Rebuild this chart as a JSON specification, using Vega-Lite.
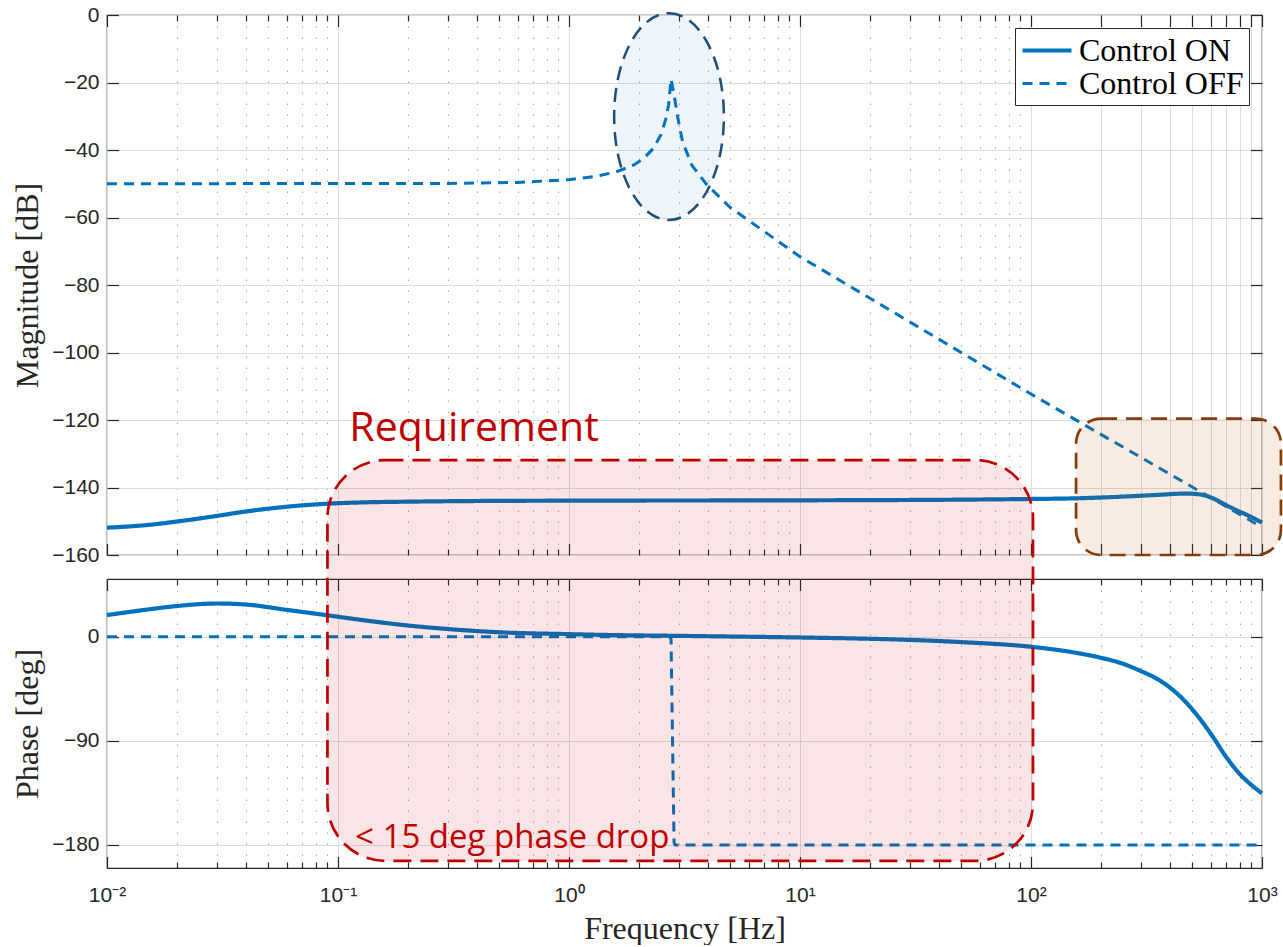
{
  "$schema": "https://vega.github.io/schema/vega-lite/v6.json",
  "background": "white",
  "padding": {"left": 11, "top": 3, "right": 0, "bottom": 0},
  "bounds": "flush",
  "spacing": 24,
  "datasets": {
    "magOn": [
      {"f": 0.01, "db": -151.9, "series": "Control ON"},
      {"f": 0.015, "db": -151.1, "series": "Control ON"},
      {"f": 0.02, "db": -150.1, "series": "Control ON"},
      {"f": 0.03, "db": -148.4, "series": "Control ON"},
      {"f": 0.04, "db": -147.1, "series": "Control ON"},
      {"f": 0.06, "db": -145.7, "series": "Control ON"},
      {"f": 0.09, "db": -144.8, "series": "Control ON"},
      {"f": 0.13, "db": -144.4, "series": "Control ON"},
      {"f": 0.2, "db": -144.2, "series": "Control ON"},
      {"f": 0.4, "db": -144.0, "series": "Control ON"},
      {"f": 1, "db": -143.9, "series": "Control ON"},
      {"f": 10, "db": -143.8, "series": "Control ON"},
      {"f": 50, "db": -143.6, "series": "Control ON"},
      {"f": 100, "db": -143.4, "series": "Control ON"},
      {"f": 158, "db": -143.2, "series": "Control ON"},
      {"f": 250, "db": -142.7, "series": "Control ON"},
      {"f": 350, "db": -142.2, "series": "Control ON"},
      {"f": 470, "db": -141.8, "series": "Control ON"},
      {"f": 530, "db": -142.0, "series": "Control ON"},
      {"f": 576, "db": -142.5, "series": "Control ON"},
      {"f": 640, "db": -143.8, "series": "Control ON"},
      {"f": 703, "db": -145.3, "series": "Control ON"},
      {"f": 780, "db": -146.8, "series": "Control ON"},
      {"f": 859, "db": -148.1, "series": "Control ON"},
      {"f": 1000, "db": -150.4, "series": "Control ON"}
    ],
    "magOff": [
      {"f": 0.01, "db": -50.0, "series": "Control OFF"},
      {"f": 0.3, "db": -49.9, "series": "Control OFF"},
      {"f": 0.6, "db": -49.6, "series": "Control OFF"},
      {"f": 1.0, "db": -48.8, "series": "Control OFF"},
      {"f": 1.3, "db": -47.8, "series": "Control OFF"},
      {"f": 1.6, "db": -46.5, "series": "Control OFF"},
      {"f": 1.9, "db": -44.5, "series": "Control OFF"},
      {"f": 2.1, "db": -42.6, "series": "Control OFF"},
      {"f": 2.32, "db": -39.5, "series": "Control OFF"},
      {"f": 2.5, "db": -35.5, "series": "Control OFF"},
      {"f": 2.62, "db": -31.0, "series": "Control OFF"},
      {"f": 2.7, "db": -26.5, "series": "Control OFF"},
      {"f": 2.765, "db": -19.0, "series": "Control OFF"},
      {"f": 2.85, "db": -23.5, "series": "Control OFF"},
      {"f": 2.95, "db": -30.0, "series": "Control OFF"},
      {"f": 3.1, "db": -37.5, "series": "Control OFF"},
      {"f": 3.4, "db": -44.5, "series": "Control OFF"},
      {"f": 3.94, "db": -50.2, "series": "Control OFF"},
      {"f": 5, "db": -57.1, "series": "Control OFF"},
      {"f": 10, "db": -71.6, "series": "Control OFF"},
      {"f": 100, "db": -112.3, "series": "Control OFF"},
      {"f": 1000, "db": -151.8, "series": "Control OFF"}
    ],
    "phOn": [
      {"f": 0.01, "deg": 18.8, "series": "Control ON"},
      {"f": 0.015, "deg": 23.6, "series": "Control ON"},
      {"f": 0.02, "deg": 26.6, "series": "Control ON"},
      {"f": 0.03, "deg": 28.8, "series": "Control ON"},
      {"f": 0.04, "deg": 27.9, "series": "Control ON"},
      {"f": 0.06, "deg": 23.3, "series": "Control ON"},
      {"f": 0.09, "deg": 18.6, "series": "Control ON"},
      {"f": 0.133, "deg": 14.0, "series": "Control ON"},
      {"f": 0.2, "deg": 9.8, "series": "Control ON"},
      {"f": 0.3, "deg": 6.7, "series": "Control ON"},
      {"f": 0.5, "deg": 3.9, "series": "Control ON"},
      {"f": 1.0, "deg": 2.3, "series": "Control ON"},
      {"f": 1.36, "deg": 1.7, "series": "Control ON"},
      {"f": 3, "deg": 0.8, "series": "Control ON"},
      {"f": 10, "deg": -0.6, "series": "Control ON"},
      {"f": 16, "deg": -1.3, "series": "Control ON"},
      {"f": 27, "deg": -2.4, "series": "Control ON"},
      {"f": 50, "deg": -4.6, "series": "Control ON"},
      {"f": 102, "deg": -8.8, "series": "Control ON"},
      {"f": 150, "deg": -13.2, "series": "Control ON"},
      {"f": 199, "deg": -18.0, "series": "Control ON"},
      {"f": 250, "deg": -23.3, "series": "Control ON"},
      {"f": 297, "deg": -29.4, "series": "Control ON"},
      {"f": 350, "deg": -36.2, "series": "Control ON"},
      {"f": 400, "deg": -44.0, "series": "Control ON"},
      {"f": 450, "deg": -53.0, "series": "Control ON"},
      {"f": 505, "deg": -64.0, "series": "Control ON"},
      {"f": 560, "deg": -75.5, "series": "Control ON"},
      {"f": 616, "deg": -87.2, "series": "Control ON"},
      {"f": 703, "deg": -104.5, "series": "Control ON"},
      {"f": 803, "deg": -118.9, "series": "Control ON"},
      {"f": 900, "deg": -128.2, "series": "Control ON"},
      {"f": 1000, "deg": -135.4, "series": "Control ON"}
    ],
    "phOff": [
      {"f": 0.01, "deg": 0, "series": "Control OFF"},
      {"f": 2.74, "deg": 0, "series": "Control OFF"},
      {"f": 2.765, "deg": -2, "series": "Control OFF"},
      {"f": 2.85, "deg": -178, "series": "Control OFF"},
      {"f": 2.88, "deg": -180, "series": "Control OFF"},
      {"f": 1000, "deg": -180, "series": "Control OFF"}
    ],
    "ellipse": [{"f": 2.71, "db": -30.1}],
    "brown": [{"f": 156.7, "f2": 1208, "db": -119.6, "db2": -160}],
    "req": [{"f": 0.09, "f2": 102, "deg": 152.9, "deg2": -193.9}],
    "reqText": [{"f": 0.112, "db": -126.2, "label": "Requirement"}],
    "dropText": [{"f": 0.1186, "deg": -183.1, "label": "< 15 deg phase drop"}]
  },
  "resolve": {"scale": {"strokeDash": "independent", "strokeWidth": "independent"}},
  "vconcat": [
    {
      "width": 1155,
      "height": 540,
      "resolve": {"axis": {"x": "independent", "y": "independent"}},
      "layer": [
        {
          "data": {"name": "magOn"},
          "mark": {"type": "line", "color": "#0072BD", "strokeCap": "butt", "strokeJoin": "round", "interpolate": "monotone"},
          "encoding": {
            "x": {"field": "f", "type": "quantitative",
              "scale": {"type": "log", "domain": [0.01, 1000], "nice": false},
              "axis": {"orient": "bottom", "title": null, "labels": false, "grid": true,
                "values": [0.01,0.02,0.03,0.04,0.05,0.06,0.07,0.08,0.09,0.1,0.2,0.3,0.4,0.5,0.6,0.7,0.8,0.9,1,2,3,4,5,6,7,8,9,10,20,30,40,50,60,70,80,90,100,200,300,400,500,600,700,800,900,1000],
                "gridDash": {"condition": {"test": "datum.value > 100.5 || indexof([0.01,0.1,1,10,100,1000], datum.value) >= 0", "value": []}, "value": [1.5, 9.5]},
                "gridColor": {"condition": {"test": "datum.value > 100.5 || indexof([0.01,0.1,1,10,100,1000], datum.value) >= 0", "value": "#DCDCDC"}, "value": "#A8A8A8"},
                "tickSize": {"condition": {"test": "datum.value > 100.5 || indexof([0.01,0.1,1,10,100,1000], datum.value) >= 0", "value": -11.5}, "value": -6}
              }},
            "y": {"field": "db", "type": "quantitative",
              "scale": {"domain": [-160, 0], "nice": false, "zero": false},
              "axis": {"orient": "left", "title": "Magnitude [dB]", "values": [-160,-140,-120,-100,-80,-60,-40,-20,0],
                "grid": true, "tickSize": -11.5, "labelPadding": 19.5, "titlePadding": 7}},
            "strokeDash": {"field": "series", "type": "nominal",
              "scale": {"domain": ["Control ON", "Control OFF"], "range": [[1, 0], [10, 7]]},
              "legend": {"title": null, "orient": "top-right", "offset": 13, "fillColor": "white", "strokeColor": "#262626",
                "padding": 5, "labelFont": "Liberation Serif", "labelFontSize": 32, "labelColor": "black",
                "symbolType": "M -1.633,0 L 1.633,0", "symbolSize": 900, "symbolStrokeColor": "#0072BD", "symbolStrokeWidth": 3.5,
                "symbolOffset": 9.5, "labelOffset": 14.5, "rowPadding": 0, "labelLimit": 0, "zindex": 2}},
            "strokeWidth": {"field": "series", "type": "nominal",
              "scale": {"domain": ["Control ON", "Control OFF"], "range": [4.2, 3]}, "legend": null}
          }
        },
        {
          "data": {"name": "magOff"},
          "mark": {"type": "line", "color": "#0072BD", "strokeCap": "butt", "strokeJoin": "round"},
          "encoding": {
            "x": {"field": "f", "type": "quantitative", "axis": null},
            "y": {"field": "db", "type": "quantitative", "axis": null},
            "strokeDash": {"field": "series", "type": "nominal"},
            "strokeWidth": {"field": "series", "type": "nominal"}
          }
        },
        {
          "data": {"name": "magOn"},
          "mark": {"type": "line", "opacity": 0},
          "encoding": {
            "x": {"field": "f", "type": "quantitative",
              "axis": {"orient": "top", "title": null, "labels": false, "grid": false,
                "values": [0.01,0.02,0.03,0.04,0.05,0.06,0.07,0.08,0.09,0.1,0.2,0.3,0.4,0.5,0.6,0.7,0.8,0.9,1,2,3,4,5,6,7,8,9,10,20,30,40,50,60,70,80,90,100,200,300,400,500,600,700,800,900,1000],
                "tickSize": {"condition": {"test": "datum.value > 100.5 || indexof([0.01,0.1,1,10,100,1000], datum.value) >= 0", "value": -11.5}, "value": -6}
              }},
            "y": {"field": "db", "type": "quantitative",
              "axis": {"orient": "right", "title": null, "labels": false, "grid": false,
                "values": [-160,-140,-120,-100,-80,-60,-40,-20,0], "tickSize": -11.5}}
          }
        },
        {
          "data": {"name": "ellipse"},
          "mark": {"type": "point", "filled": true,
            "shape": "M 0,-1 C 0.2933,-1 0.531,-0.5523 0.531,0 C 0.531,0.5523 0.2933,1 0,1 C -0.2933,1 -0.531,0.5523 -0.531,0 C -0.531,-0.5523 -0.2933,-1 0,-1 Z",
            "size": 42725, "fill": "#0072BD", "fillOpacity": 0.07, "stroke": "#1F4E79", "strokeWidth": 2.5, "strokeDash": [14, 8], "opacity": 1},
          "encoding": {
            "x": {"field": "f", "type": "quantitative", "axis": null},
            "y": {"field": "db", "type": "quantitative", "axis": null}
          }
        },
        {
          "data": {"name": "brown"},
          "mark": {"type": "rect", "cornerRadius": 25, "fill": "#C55A11", "fillOpacity": 0.12, "stroke": "#843C0C", "strokeWidth": 2.7, "strokeDash": [16, 9]},
          "encoding": {
            "x": {"field": "f", "type": "quantitative", "axis": null},
            "x2": {"field": "f2"},
            "y": {"field": "db", "type": "quantitative", "axis": null},
            "y2": {"field": "db2"}
          }
        },
        {
          "data": {"name": "reqText"},
          "mark": {"type": "text", "font": "Open Sans", "fontSize": 41, "color": "#C00000", "align": "left", "baseline": "alphabetic"},
          "encoding": {
            "x": {"field": "f", "type": "quantitative", "axis": null},
            "y": {"field": "db", "type": "quantitative", "axis": null},
            "text": {"field": "label"}
          }
        }
      ]
    },
    {
      "width": 1155,
      "height": 289,
      "resolve": {"axis": {"x": "independent", "y": "independent"}},
      "layer": [
        {
          "data": {"name": "phOn"},
          "mark": {"type": "line", "color": "#0072BD", "strokeCap": "butt", "strokeJoin": "round", "interpolate": "monotone"},
          "encoding": {
            "x": {"field": "f", "type": "quantitative",
              "scale": {"type": "log", "domain": [0.01, 1000], "nice": false},
              "axis": {"orient": "bottom", "title": "Frequency [Hz]", "grid": true, "labelOverlap": false, "labelFlush": false,
                "values": [0.01,0.02,0.03,0.04,0.05,0.06,0.07,0.08,0.09,0.1,0.2,0.3,0.4,0.5,0.6,0.7,0.8,0.9,1,2,3,4,5,6,7,8,9,10,20,30,40,50,60,70,80,90,100,200,300,400,500,600,700,800,900,1000],
                "labelExpr": "['10⁻²','10⁻¹','10⁰','10¹','10²','10³'][indexof([0.01,0.1,1,10,100,1000], datum.value)] || ''",
                "gridDash": {"condition": {"test": "indexof([0.01,0.1,1,10,100,1000], datum.value) >= 0", "value": []}, "value": [1.5, 9.5]},
                "gridColor": {"condition": {"test": "indexof([0.01,0.1,1,10,100,1000], datum.value) >= 0", "value": "#DCDCDC"}, "value": "#A8A8A8"},
                "tickSize": {"condition": {"test": "indexof([0.01,0.1,1,10,100,1000], datum.value) >= 0", "value": -11.5}, "value": -6},
                "labelPadding": 28, "titlePadding": 2
              }},
            "y": {"field": "deg", "type": "quantitative",
              "scale": {"domain": [-200, 50], "nice": false, "zero": false},
              "axis": {"orient": "left", "title": "Phase [deg]", "values": [-180, -90, 0],
                "grid": true, "tickSize": -11.5, "labelPadding": 19.5, "titlePadding": 7}},
            "strokeDash": {"field": "series", "type": "nominal",
              "scale": {"domain": ["Control ON", "Control OFF"], "range": [[1, 0], [10, 7]]}, "legend": null},
            "strokeWidth": {"field": "series", "type": "nominal",
              "scale": {"domain": ["Control ON", "Control OFF"], "range": [4.2, 3]}, "legend": null}
          }
        },
        {
          "data": {"name": "phOff"},
          "mark": {"type": "line", "color": "#0072BD", "strokeCap": "butt", "strokeJoin": "round"},
          "encoding": {
            "x": {"field": "f", "type": "quantitative", "axis": null},
            "y": {"field": "deg", "type": "quantitative", "axis": null},
            "strokeDash": {"field": "series", "type": "nominal", "legend": null},
            "strokeWidth": {"field": "series", "type": "nominal", "legend": null}
          }
        },
        {
          "data": {"name": "phOn"},
          "mark": {"type": "line", "opacity": 0},
          "encoding": {
            "x": {"field": "f", "type": "quantitative",
              "axis": {"orient": "top", "title": null, "labels": false, "grid": false,
                "values": [0.01,0.02,0.03,0.04,0.05,0.06,0.07,0.08,0.09,0.1,0.2,0.3,0.4,0.5,0.6,0.7,0.8,0.9,1,2,3,4,5,6,7,8,9,10,20,30,40,50,60,70,80,90,100,200,300,400,500,600,700,800,900,1000],
                "tickSize": {"condition": {"test": "indexof([0.01,0.1,1,10,100,1000], datum.value) >= 0", "value": -11.5}, "value": -6}
              }},
            "y": {"field": "deg", "type": "quantitative",
              "axis": {"orient": "right", "title": null, "labels": false, "grid": false,
                "values": [-180, -90, 0], "tickSize": -11.5}}
          }
        },
        {
          "data": {"name": "req"},
          "mark": {"type": "rect", "cornerRadius": 58, "fill": "#C00000", "fillOpacity": 0.1, "stroke": "#C00000", "strokeWidth": 2.7, "strokeDash": [18, 9]},
          "encoding": {
            "x": {"field": "f", "type": "quantitative", "axis": null},
            "x2": {"field": "f2"},
            "y": {"field": "deg", "type": "quantitative", "axis": null},
            "y2": {"field": "deg2"}
          }
        },
        {
          "data": {"name": "dropText"},
          "mark": {"type": "text", "font": "Open Sans", "fontSize": 33, "color": "#C00000", "align": "left", "baseline": "alphabetic"},
          "encoding": {
            "x": {"field": "f", "type": "quantitative", "axis": null},
            "y": {"field": "deg", "type": "quantitative", "axis": null},
            "text": {"field": "label"}
          }
        }
      ]
    }
  ],
  "config": {
    "view": {"stroke": "#262626", "strokeWidth": 1.2},
    "axis": {
      "labelFont": "Liberation Sans", "labelFontSize": 21, "labelColor": "#262626",
      "titleFont": "Liberation Serif", "titleFontSize": 32, "titleFontWeight": "normal", "titleColor": "#262626",
      "domain": false, "tickColor": "#262626", "tickWidth": 1.2, "gridColor": "#DCDCDC", "gridWidth": 1
    }
  }
}
